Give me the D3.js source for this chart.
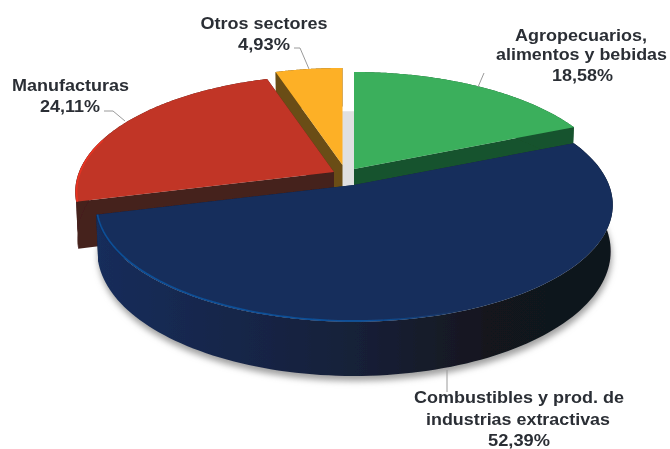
<!DOCTYPE html>
<html><head><meta charset="utf-8">
<script src="https://cdn.jsdelivr.net/npm/d3@7/dist/d3.min.js"></script>
<style>html,body{margin:0;background:#fff}svg{display:block}text{font-family:"Liberation Sans",Arial,sans-serif;font-weight:700;font-size:16.5px;fill:#2b2f35;text-anchor:middle}</style>
</head><body><svg id="c" width="670" height="449"></svg>
<script>
const categories=["Agropecuarios, alimentos y bebidas","Combustibles y prod. de industrias extractivas","Manufacturas","Otros sectores"];
const values=[18.58,52.39,24.11,4.93];
const valueLabels=["18,58%","52,39%","24,11%","4,93%"];
const labelLines=[["Agropecuarios,","alimentos y bebidas","18,58%"],["Combustibles y prod. de","industrias extractivas","52,39%"],["Manufacturas","24,11%"],["Otros sectores","4,93%"]];

const colors={top:["#3aaf5b","#152f5c","#c13626","#fdb027"],face:["#17522d","#10203f","#45201d","#6a4e13"],wall:["#17522d","#141c33","#45201d","#6a4e13"]};
const centers=[[354,169],[354,185],[334,172],[342.5,165]];
const paint=[3,0,2,1];
const R=255,Ry=113.5,K=0.17,D=45;
const labelLayout=[
 {y:[41,60,81],w:[132,171,61],x:[581,581.5,582.5]},
 {y:[403,425,446],w:[210,184,62],x:[519,518,519]},
 {y:[91,112],w:[117,60],x:[70.5,70]},
 {y:[29,50],w:[127,52],x:[264,264]}];
const leaders=[[[484,73],[478,87]],[[447,370],[447,392]],[[104,111],[113,111],[125,121]],[[294,48],[300,48],[309,69]]];

const svg=d3.select("#c");
const defs=svg.append("defs");
const blur=(id,s)=>defs.append("filter").attr("id",id).attr("x","-20%").attr("y","-20%").attr("width","140%").attr("height","140%").append("feGaussianBlur").attr("stdDeviation",s);
blur("soft",0.6);blur("shadow",3);
const g=defs.append("linearGradient").attr("id","navyWall").attr("gradientUnits","userSpaceOnUse").attr("x1",95).attr("x2",615).attr("y1",0).attr("y2",0);
[[0,"#142d5b"],[0.25,"#17264a"],[0.5,"#182038"],[0.75,"#12171f"],[1,"#10141b"]].forEach(s=>g.append("stop").attr("offset",s[0]).attr("stop-color",s[1]));
const rim=defs.append("linearGradient").attr("id","rim").attr("gradientUnits","userSpaceOnUse").attr("x1",95).attr("x2",460).attr("y1",0).attr("y2",0);
[[0,"#0d4f98",1],[0.75,"#0d4f98",1],[1,"#0d4f98",0]].forEach(s=>rim.append("stop").attr("offset",s[0]).attr("stop-color",s[1]).attr("stop-opacity",s[2]));

const arcs=d3.pie().sort(null).startAngle(0).endAngle(2*Math.PI).value(d=>d)(values);
function P(c,t,r,h){const X=r*Math.sin(t),Z=r*Math.cos(t),s=1/(1+K*Z),sh=1-0.008*h;return [c[0]+R*X*s*sh,c[1]+(-Ry*Z+D*h)*s];}
const line=d3.line();
const range=(a,b,n=120)=>d3.range(n+1).map(i=>a+(b-a)*i/n);
const root=svg.append("g").attr("filter","url(#soft)");

const full=range(0,2*Math.PI,180);
svg.insert("path","g").attr("d",line(full.map(t=>P([355,190],t,1,1)))+"Z").attr("fill","#a0a0a0").attr("filter","url(#shadow)");
root.append("path").attr("d",line(full.map(t=>P([348,168],t,0.98,1)))+"Z").attr("fill","#e0e0e0");

paint.forEach(i=>{
  const a=arcs[i],c=centers[i],G=root.append("g");
  const arc=range(a.startAngle,a.endAngle);
  [a.startAngle,a.endAngle].forEach(t=>{
    G.append("path").attr("d",line([P(c,0,0,0),P(c,t,1,0),P(c,t,1,1),P(c,0,0,1)])+"Z").attr("fill",colors.face[i]);
  });
  G.append("path").attr("d",line(arc.map(t=>P(c,t,1,0)).concat(arc.slice().reverse().map(t=>P(c,t,1,1))))+"Z")
   .attr("fill",i===1?"url(#navyWall)":colors.wall[i]);
  G.append("path").attr("d",line([P(c,0,0,0)].concat(arc.map(t=>P(c,t,1,0))))+"Z").attr("fill",colors.top[i]);
  if(i===1) G.append("path").attr("d",line(range(a.endAngle,Math.PI*0.8,80).map(t=>P(c,t,0.995,0)))).attr("fill","none").attr("stroke","url(#rim)").attr("stroke-width",1.6);
  if(i===2) G.append("path").attr("d",line(range(a.startAngle,a.startAngle+0.55,30).map(t=>P(c,t,0.995,0)))).attr("fill","none").attr("stroke","#ea3320").attr("stroke-width",1.5);
});

leaders.forEach(l=>root.append("path").attr("d",line(l)).attr("fill","none").attr("stroke","#9a9a9a").attr("stroke-width",1));
labelLines.forEach((ls,i)=>ls.forEach((s,j)=>{
  const L=labelLayout[i];
  root.append("text").attr("x",L.x[j]).attr("y",L.y[j]).attr("textLength",L.w[j]).attr("lengthAdjust","spacingAndGlyphs").text(s);
}));
</script></body></html>
